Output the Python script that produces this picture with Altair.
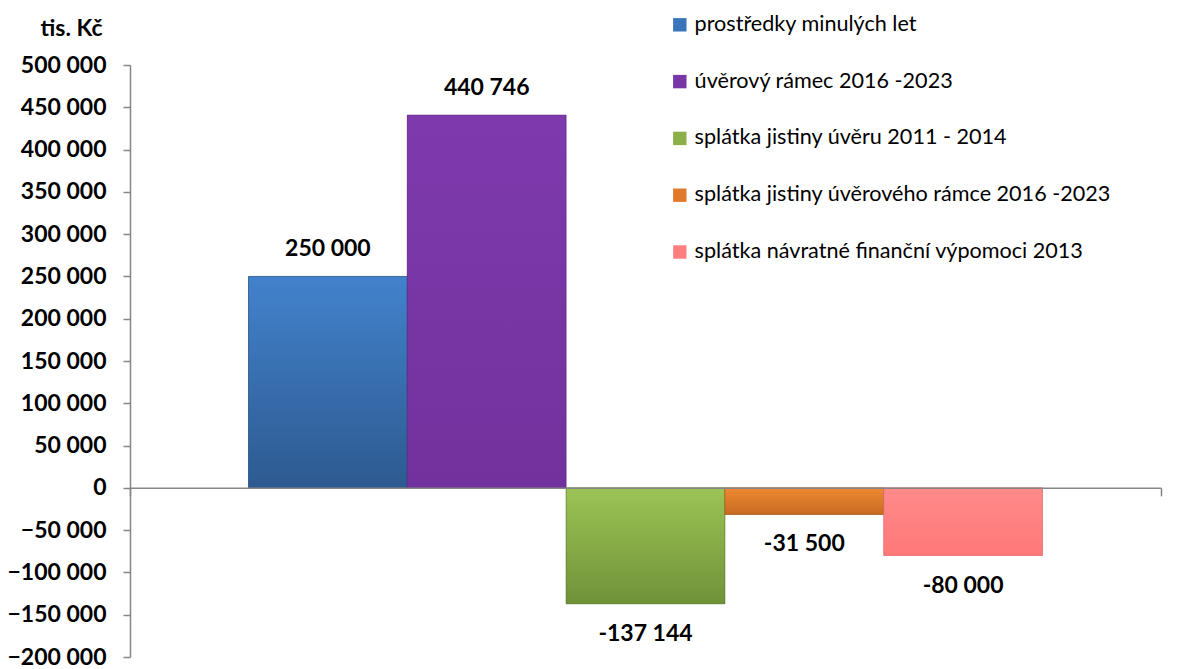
import altair as alt
import pandas as pd

# ---- data ----
kategorie = "2013"
serie = [
    "prostředky minulých let",
    "úvěrový rámec 2016 -2023",
    "splátka jistiny úvěru 2011 - 2014",
    "splátka jistiny úvěrového rámce 2016 -2023",
    "splátka návratné finanční výpomoci 2013",
]
hodnoty = [250000, 440746, -137144, -31500, -80000]
barvy = ["#3A74BB", "#7A36A6", "#8BB04A", "#E07A2A", "#FF7F80"]
barvy_horni = ["#4282CC", "#7E3AAD", "#9CC455", "#F08A32", "#FF8A8A"]
barvy_dolni = ["#2D5A90", "#72329D", "#6F9238", "#C66A22", "#FF7878"]
barvy_okraj = ["#23466F", "#5A2680", "#55712A", "#A5561A", "#D96566"]
y_ticky = [-200000, -150000, -100000, -50000, 0, 50000, 100000, 150000,
           200000, 250000, 300000, 350000, 400000, 450000, 500000]
y_min, y_max = -200000, 500000

df = pd.DataFrame({
    "kat": [kategorie] * len(serie),
    "serie": serie,
    "hodnota": hodnoty,
})
df["popisek"] = [f"{v:,}".replace(",", " ") for v in hodnoty]

W, H = 1031, 592
FONT = "Lato"
GRAY = "#868686"

x_enc = alt.X(
    "kat:N",
    scale=alt.Scale(paddingInner=0, paddingOuter=0),
    axis=alt.Axis(
        labels=False, title=None, tickBand="extent", domainColor=GRAY,
        tickColor=GRAY, tickSize=8, domainWidth=1.5, tickWidth=1.5,
        offset=-H * (0 - y_min) / (y_max - y_min), zindex=1,
    ),
)
xo_enc = alt.XOffset(
    "serie:N",
    scale=alt.Scale(domain=serie, paddingInner=0, paddingOuter=0.746),
)
y_enc = alt.Y(
    "hodnota:Q",
    scale=alt.Scale(domain=[y_min, y_max], nice=False, zero=False),
    axis=alt.Axis(
        values=y_ticky, grid=False, title="tis. Kč", titleAngle=0,
        titleX=-28, titleY=-37, titleAlign="right", titleBaseline="middle",
        titleFont=FONT, titleFontSize=23, titleFontWeight="bold", titleColor="#000",
        labelExpr="replace(format(datum.value, ','), ',', ' ')",
        labelFont=FONT, labelFontSize=23, labelFontWeight="bold", labelColor="#000",
        labelPadding=17, tickSize=7, tickColor=GRAY, domainColor=GRAY,
        domainWidth=1.5, tickWidth=1.5,
    ),
)

base = alt.Chart(df).mark_bar().encode(
    x=x_enc,
    xOffset=xo_enc,
    y=y_enc,
    color=alt.Color(
        "serie:N",
        scale=alt.Scale(domain=serie, range=barvy),
        legend=alt.Legend(
            title=None, orient="none", legendX=539, legendY=-51,
            symbolType="square", symbolSize=180, symbolStrokeWidth=0,
            labelFont=FONT, labelFontSize=21.6, labelColor="#000",
            labelLimit=600, rowPadding=33.8, labelOffset=4,
        ),
    ),
)

overlays = []
for s, top, bot, edge in zip(serie, barvy_horni, barvy_dolni, barvy_okraj):
    overlays.append(
        alt.Chart(df).transform_filter(alt.datum.serie == s).mark_bar(
            color={
                "gradient": "linear", "x1": 0, "y1": 0, "x2": 0, "y2": 1,
                "stops": [{"offset": 0, "color": top}, {"offset": 1, "color": bot}],
            },
            stroke=edge, strokeWidth=1, strokeOpacity=0.6,
        ).encode(x=x_enc, xOffset=xo_enc, y=y_enc)
    )

txt_pos = alt.Chart(df).transform_filter(alt.datum.hodnota > 0).mark_text(
    font=FONT, fontSize=23, fontWeight="bold", baseline="middle", dy=-27, color="#000"
).encode(x=x_enc, xOffset=xo_enc, y=y_enc, text="popisek:N")

txt_neg = alt.Chart(df).transform_filter(alt.datum.hodnota < 0).mark_text(
    font=FONT, fontSize=23, fontWeight="bold", baseline="middle", dy=30, color="#000"
).encode(x=x_enc, xOffset=xo_enc, y=y_enc, text="popisek:N")

chart = alt.layer(base, *overlays, txt_pos, txt_neg).properties(
    width=W, height=H,
    autosize=alt.AutoSizeParams(type="none"),
    padding={"left": 122, "top": 57, "right": 10, "bottom": 20},
).configure(font=FONT).configure_view(stroke=None)

chart.save("out.html", embed_options={"renderer": "svg", "actions": False})
